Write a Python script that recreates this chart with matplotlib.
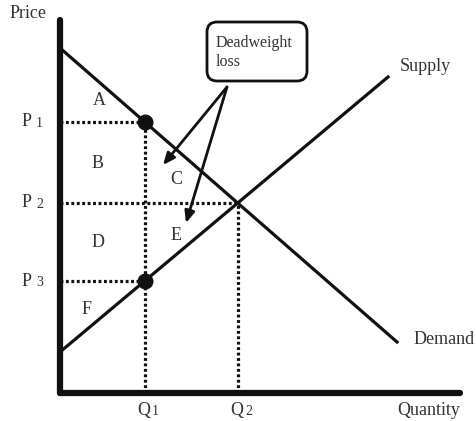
import matplotlib
matplotlib.use("Agg")
import matplotlib.pyplot as plt
from matplotlib.patches import FancyBboxPatch

# Data (abstract units)
demand_q = [0.0, 33.7]
demand_p = [34.5, 5.1]
supply_q = [0.0, 32.8]
supply_p = [4.1, 31.6]
Q1, Q2 = 8.5, 17.8
P1, P2, P3 = 27.1, 19.0, 11.2
area_labels = ["A", "B", "C", "D", "E", "F"]
area_pos = [(3.9, 29.2), (3.8, 23.0), (11.6, 21.3), (3.8, 15.0), (11.6, 15.7), (2.7, 8.3)]

ink = "#111111"
txt = "#333333"
serif = ["Liberation Serif", "DejaVu Serif"]

fig = plt.figure(figsize=(4.77, 4.21), dpi=100)
ax = fig.add_axes([0, 0, 1, 1])
ax.set_xlim(-6.0, 41.7)
ax.set_ylim(-2.8, 39.3)
ax.axis("off")

# axes
ax.plot([0, 0], [0, 37.3], color=ink, lw=4.5, solid_capstyle="round")
ax.plot([0, 40.0], [0, 0], color=ink, lw=4.5, solid_capstyle="round")

# curves
ax.plot(demand_q, demand_p, color=ink, lw=2.3)
ax.plot(supply_q, supply_p, color=ink, lw=2.3)

# dotted guides
dot = dict(color=ink, lw=2.3, linestyle=(0, (0.9, 0.8)))
ax.plot([0, Q1], [P1, P1], **dot)
ax.plot([Q1, Q1], [0, P1], **dot)
ax.plot([0, Q2], [P2, P2], **dot)
ax.plot([Q2, Q2], [0, P2], **dot)
ax.plot([0, Q1], [P3, P3], **dot)

# points
ax.plot([Q1, Q1], [P1, P3], "o", color=ink, ms=10.5)

# text labels
fs = 13
sfs = 10
ax.text(-3.2, 37.9, "Price", fontsize=fs, family=serif, color=txt, ha="center", va="center")
for val, sub in [(P1, "1"), (P2, "2"), (P3, "3")]:
    ax.text(-3.3, val, "P", fontsize=fs, family=serif, color=txt, ha="center", va="center")
    ax.text(-2.05, val - 0.2, sub, fontsize=sfs, family=serif, color=txt, ha="center", va="center")
for val, sub in [(Q1, "1"), (Q2, "2")]:
    ax.text(val - 0.1, -1.75, "Q", fontsize=fs, family=serif, color=txt, ha="center", va="center")
    ax.text(val + 1.05, -1.85, sub, fontsize=sfs, family=serif, color=txt, ha="center", va="center")
ax.text(36.9, -1.75, "Quantity", fontsize=fs, family=serif, color=txt, ha="center", va="center")
ax.text(34.0, 32.6, "Supply", fontsize=fs, family=serif, color=txt, ha="left", va="center")
ax.text(35.4, 5.3, "Demand", fontsize=fs, family=serif, color=txt, ha="left", va="center")
for lab, (x, y) in zip(area_labels, area_pos):
    ax.text(x, y, lab, fontsize=fs, family=serif, color=txt, ha="center", va="center")

# Deadweight loss box
box = FancyBboxPatch((14.7, 31.2), 10.0, 5.9, boxstyle="round,pad=0,rounding_size=1.0",
                     fc="white", ec=ink, lw=2.0)
ax.add_patch(box)
ax.text(15.6, 35.0, "Deadweight", fontsize=11.5, family=serif, color=txt, ha="left", va="center")
ax.text(15.6, 33.1, "loss", fontsize=11.5, family=serif, color=txt, ha="left", va="center")

# arrows
start = (16.7, 30.6)
for tip in [(10.3, 22.8), (12.6, 17.0)]:
    ax.annotate("", xy=tip, xytext=start,
                arrowprops=dict(arrowstyle="-|>,head_length=0.7,head_width=0.3",
                                color=ink, lw=2.0, shrinkA=0, shrinkB=0))

fig.savefig("out.png", dpi=100)
